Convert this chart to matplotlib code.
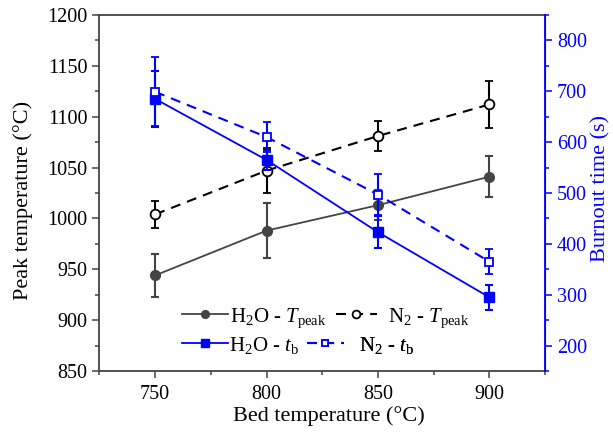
import matplotlib
matplotlib.use("Agg")
import matplotlib.pyplot as plt
from matplotlib.ticker import MultipleLocator

plt.rcParams['font.family'] = ['Liberation Serif', 'DejaVu Serif']
plt.rcParams['mathtext.fontset'] = 'custom'
plt.rcParams['mathtext.rm'] = 'Liberation Serif'
plt.rcParams['mathtext.it'] = 'Liberation Serif:italic'

bed_temp = [750, 800, 850, 900]

h2o_tpeak = [944, 988, 1013, 1041]
h2o_tpeak_err = [21, 27, 15, 20]
n2_tpeak = [1004, 1047, 1081, 1112]
n2_tpeak_err = [13, 22, 15, 23]

h2o_tb = [685, 565, 423, 295]
h2o_tb_err = [55, 20, 31, 25]
n2_tb = [699, 610, 497, 365]
n2_tb_err = [68, 30, 40, 24]

gray = '#444444'
blue = '#0000ff'
dash = (0, (4.8, 3.4))

fig = plt.figure(figsize=(6.13, 4.33), dpi=100)
ax = fig.add_axes([0.1623, 0.1432, 0.7267, 0.8222])
ax2 = ax.twinx()

err_kw = dict(capsize=3, elinewidth=1.5, capthick=1.5)
l1 = ax.errorbar(bed_temp, h2o_tpeak, yerr=h2o_tpeak_err, color=gray, marker='o',
                 ms=7, mfc=gray, mec=gray, lw=1.3,
                 label=r'H$_2$O - $T_{\mathrm{peak}}$', **err_kw)
l2 = ax.errorbar(bed_temp, n2_tpeak, yerr=n2_tpeak_err, color='black', marker='o',
                 ms=7, mfc='white', mec='black', mew=1.3, lw=1.5, ls=dash,
                 label=r'N$_2$ - $T_{\mathrm{peak}}$', **err_kw)
l3 = ax2.errorbar(bed_temp, h2o_tb, yerr=h2o_tb_err, color=blue, marker='s',
                  ms=6.5, mfc=blue, mec=blue, lw=1.3,
                  label=r'H$_2$O - $t_{\mathrm{b}}$', **err_kw)
l4 = ax2.errorbar(bed_temp, n2_tb, yerr=n2_tb_err, color=blue, marker='s',
                  ms=6, mfc='white', mec=blue, mew=1.3, lw=1.5, ls=dash,
                  label=r'N$_2$ - $t_{\mathrm{b}}$', **err_kw)

ax.set_xlim(725, 925)
ax.set_ylim(850, 1200)
ax2.set_ylim(150, 850)

ax.xaxis.set_major_locator(MultipleLocator(50))
ax.xaxis.set_minor_locator(MultipleLocator(25))
ax.yaxis.set_major_locator(MultipleLocator(50))
ax.yaxis.set_minor_locator(MultipleLocator(25))
ax2.yaxis.set_minor_locator(MultipleLocator(50))
ax2.set_yticks([200, 300, 400, 500, 600, 700, 800])

for s in ['left', 'bottom', 'top']:
    ax.spines[s].set_color(gray)
    ax.spines[s].set_linewidth(1.3)
ax2.spines['right'].set_color(blue)
ax2.spines['right'].set_linewidth(1.3)
for s in ['left', 'bottom', 'top']:
    ax2.spines[s].set_visible(False)

ax.tick_params(axis='both', which='major', direction='out', length=5, width=1.1,
               color=gray, labelsize=14.5)
ax.tick_params(axis='both', which='minor', direction='out', length=3, width=1.1,
               color=gray)
ax.tick_params(axis='x', pad=5)
ax2.tick_params(axis='y', which='major', direction='out', length=5, width=1.1,
                color=blue, labelcolor=blue, labelsize=14.5)
ax2.tick_params(axis='y', which='minor', direction='out', length=3, width=1.1,
                color=blue)

ax.set_xlabel('Bed temperature (°C)', fontsize=16)
ax.set_ylabel('Peak temperature (°C)', fontsize=16)
ax2.set_ylabel('Burnout time (s)', fontsize=16, color=blue)
ax.xaxis.set_label_coords(0.515, -0.098)
ax.yaxis.set_label_coords(-0.149, 0.48)
ax2.yaxis.set_label_coords(1.104, 0.514)

# one legend per entry, laid out in two rows below the curves
entries = [
    (l1, 0.185, 0.149, 2.2, 0.1),
    (l2, 0.530, 0.149, 2.0, 0.5),
    (l3, 0.185, 0.073, 2.2, 0.05),
    (l4, 0.465, 0.073, 1.8, 0.7),
]
for cont, x, y, hl, tp in entries:
    leg = ax.legend([cont.lines[0]], [cont.get_label()], loc='center left',
                    bbox_to_anchor=(x, y), frameon=False, fontsize=15,
                    handlelength=hl, handletextpad=tp, borderpad=0,
                    borderaxespad=0, markerscale=0.8)
    ax.add_artist(leg)

fig.savefig('out.png', dpi=100)
